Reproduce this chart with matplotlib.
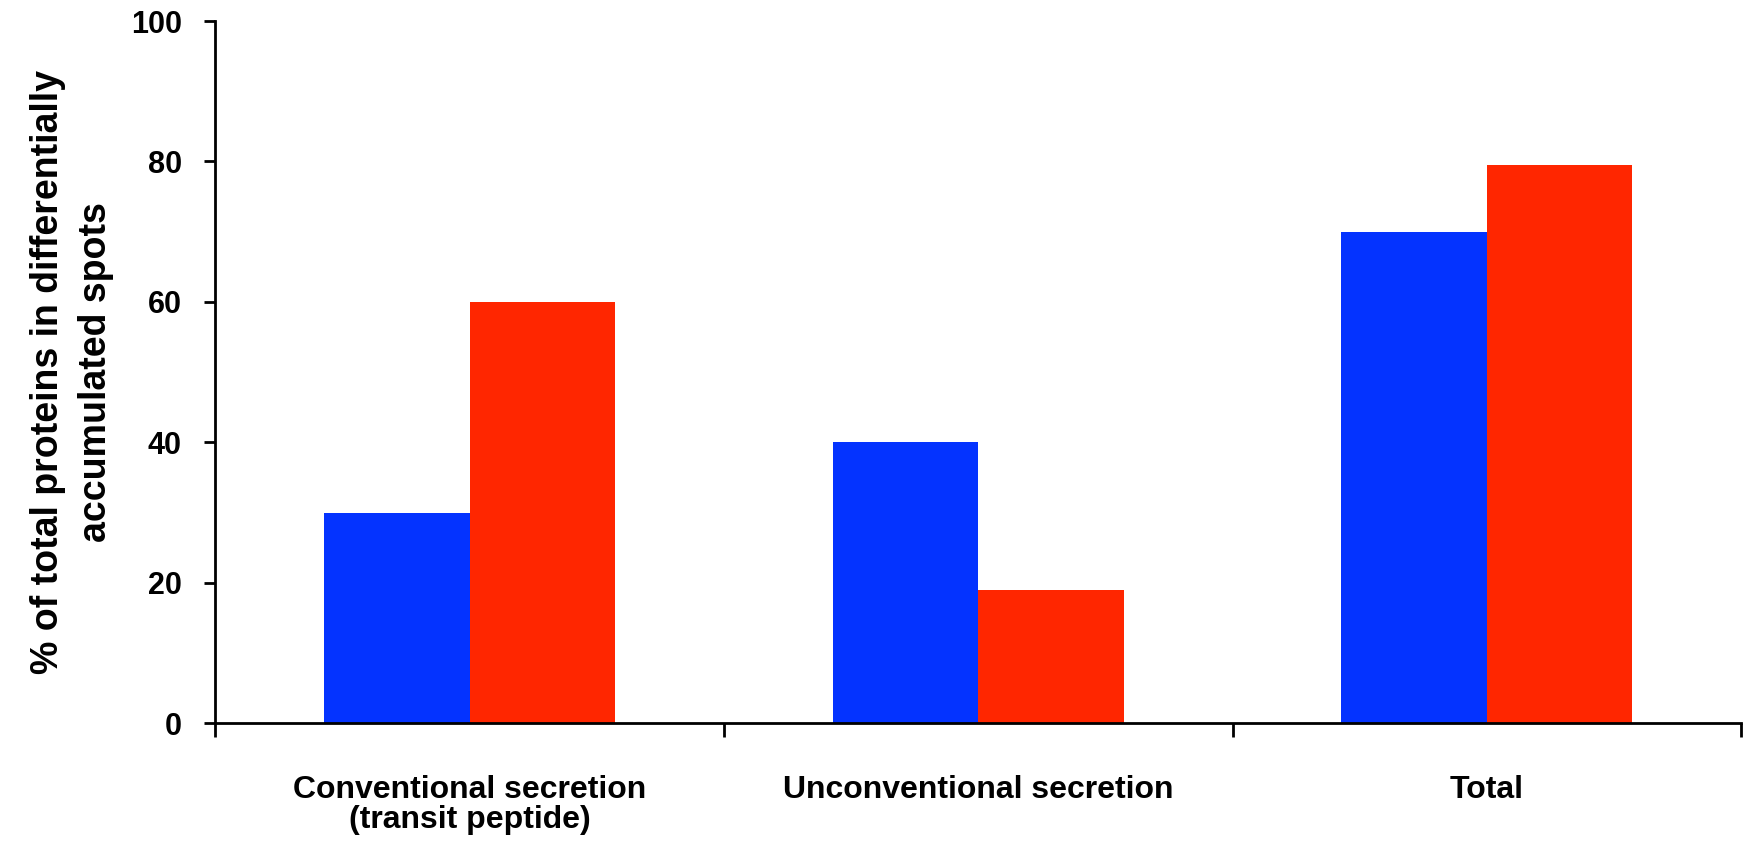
import numpy as np
import matplotlib
matplotlib.use("Agg")
import matplotlib.pyplot as plt

categories = ["Conventional secretion\n(transit peptide)", "Unconventional secretion", "Total"]
blue_vals = [30, 40, 70]
red_vals = [60, 19, 79.5]
yticks = [0, 20, 40, 60, 80, 100]

BLUE = "#0433FF"
RED = "#FF2600"
FONT = ["Liberation Sans", "DejaVu Sans"]

fig = plt.figure(figsize=(17.5, 8.41), dpi=100)
ax = fig.add_axes([0.123, 0.140, 0.872, 0.835])

x = np.arange(len(categories))
w = 0.286
ax.bar(x - w / 2, blue_vals, width=w, color=BLUE, zorder=2)
ax.bar(x + w / 2, red_vals, width=w, color=RED, zorder=2)

ax.set_xlim(-0.5, len(categories) - 0.5)
ax.set_ylim(0, 100)

for s in ["top", "right"]:
    ax.spines[s].set_visible(False)
for s in ["left", "bottom"]:
    ax.spines[s].set_linewidth(2)
    ax.spines[s].set_zorder(3)

ax.set_yticks(yticks)
ax.set_yticklabels([str(v) for v in yticks], fontfamily=FONT,
                   fontweight="bold", fontsize=22)
ax.tick_params(axis="y", direction="out", length=8, width=2, pad=16)

ax.set_xticks(x)
ax.set_xticklabels(categories, fontfamily=FONT,
                   fontweight="bold", fontsize=23, linespacing=1.03)
ax.tick_params(axis="x", which="major", length=0, pad=37)
ax.set_xticks(np.arange(len(categories) + 1) - 0.5, minor=True)
ax.tick_params(axis="x", which="minor", direction="out", length=10, width=2)

ax.set_ylabel("% of total proteins in differentially\naccumulated spots",
              fontfamily=FONT, fontweight="bold", fontsize=27,
              linespacing=1.45, labelpad=12)

fig.savefig("out.png", dpi=100)
